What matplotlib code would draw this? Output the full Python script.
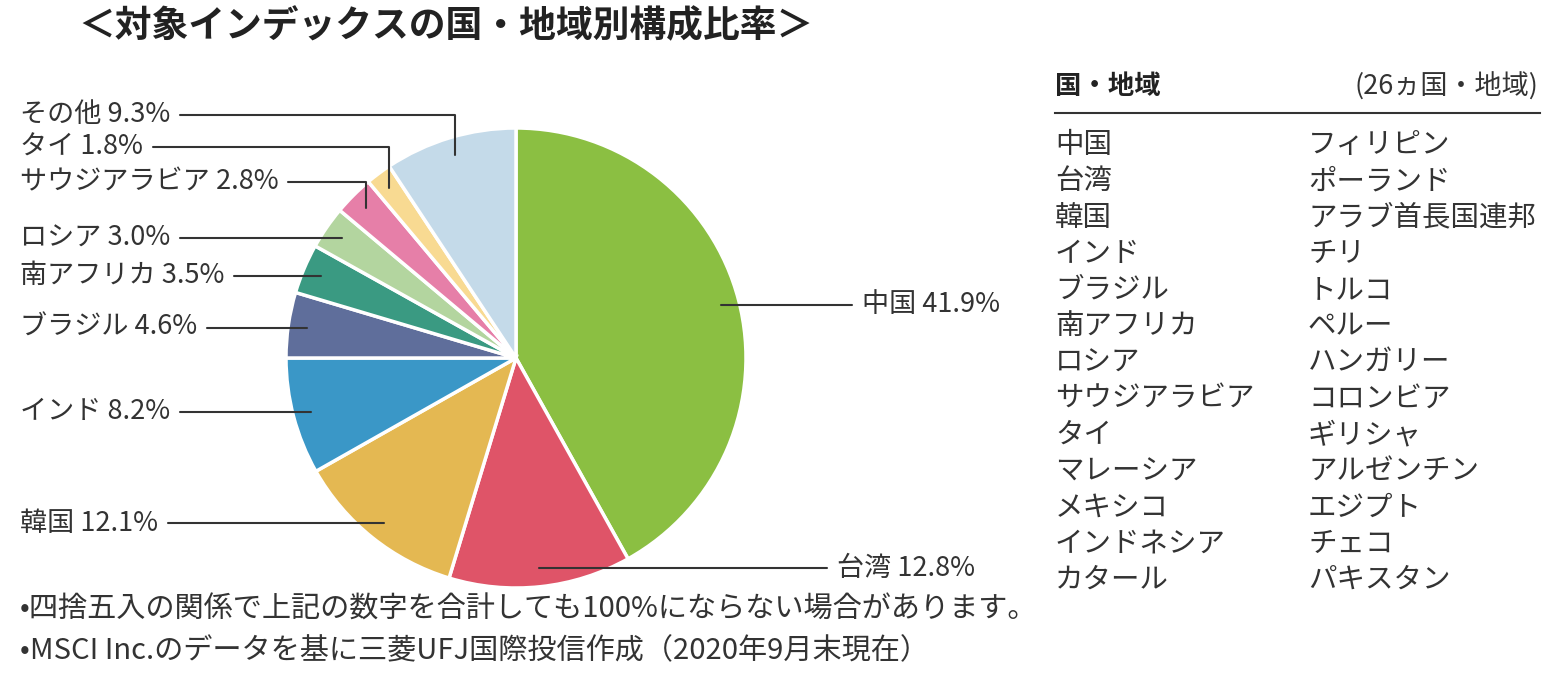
import numpy as np
import matplotlib
matplotlib.use("Agg")
import matplotlib.pyplot as plt

plt.rcParams['font.family'] = ['Noto Sans CJK JP', 'DejaVu Sans']

# data
regions = ['中国', '台湾', '韓国', 'インド', 'ブラジル', '南アフリカ',
           'ロシア', 'サウジアラビア', 'タイ', 'その他']
shares = [41.9, 12.8, 12.1, 8.2, 4.6, 3.5, 3.0, 2.8, 1.8, 9.3]
colors = ['#8bbf42', '#df5468', '#e4b852', '#3a97c7', '#5f6e9b', '#3a9a82',
          '#b3d59f', '#e67fa8', '#f8da92', '#c4dae9']

table_left = ['中国', '台湾', '韓国', 'インド', 'ブラジル', '南アフリカ', 'ロシア',
              'サウジアラビア', 'タイ', 'マレーシア', 'メキシコ', 'インドネシア', 'カタール']
table_right = ['フィリピン', 'ポーランド', 'アラブ首長国連邦', 'チリ', 'トルコ', 'ペルー',
               'ハンガリー', 'コロンビア', 'ギリシャ', 'アルゼンチン', 'エジプト', 'チェコ', 'パキスタン']

W, H = 1555, 679
txt = '#333333'

fig = plt.figure(figsize=(W / 100, H / 100), dpi=100)

# pie axes placed as a square box in pixels
ax = fig.add_axes([286 / W, 91 / H, 460 / W, 460 / H])
wedges, _ = ax.pie(shares, colors=colors, startangle=90, counterclock=False,
                   wedgeprops=dict(edgecolor='white', linewidth=2.5))
ax.set_xlim(-1, 1)
ax.set_ylim(-1, 1)
ax.set_aspect('equal')

# label placement (figure pixels, y measured from top)
side = {'中国': ('right', 862, None), '台湾': ('right', 837, None),
        'その他': ('left', 20, 115), 'タイ': ('left', 20, 147),
        'サウジアラビア': ('left', 20, 182)}

for w, name, val in zip(wedges, regions, shares):
    mid = np.deg2rad((w.theta1 + w.theta2) / 2)
    r = 0.92
    xa, ya = r * np.cos(mid), r * np.sin(mid)
    where, px, py = side.get(name, ('left', 20, None))
    label = f'{name} {val:.1f}%'
    if py is None:
        xytext = (px, ya)
        tc = ('figure pixels', 'data')
    else:
        xytext = (px, H - py)
        tc = 'figure pixels'
    ax.annotate(label, xy=(xa, ya), xycoords='data', xytext=xytext, textcoords=tc,
                ha='left', va='center', fontsize=19.5, color=txt,
                arrowprops=dict(arrowstyle='-', color=txt, lw=1.5,
                                connectionstyle='angle,angleA=0,angleB=90,rad=0',
                                relpos=(1, 0.5) if where == 'left' else (0, 0.5),
                                shrinkA=5, shrinkB=0))

# title
fig.text(78 / W, 1 - 27 / H, '＜対象インデックスの国・地域別構成比率＞', fontsize=26.5,
         fontweight='bold', color='#222222', ha='left', va='center')

# table of constituents
fig.text(1055 / W, 1 - 87 / H, '国・地域', fontsize=19, fontweight='bold',
         color='#222222', ha='left', va='center')
fig.text(1538 / W, 1 - 87 / H, '(26ヵ国・地域)', fontsize=19.5, color=txt,
         ha='right', va='center')
fig.add_artist(plt.Line2D([1055 / W, 1540 / W], [1 - 113 / H, 1 - 113 / H],
                          color=txt, lw=1.5))
for i, (a, b) in enumerate(zip(table_left, table_right)):
    y = 1 - (145 + i * 36.25) / H
    fig.text(1055 / W, y, a, fontsize=20.5, color=txt, ha='left', va='center')
    fig.text(1308 / W, y, b, fontsize=20.5, color=txt, ha='left', va='center')

# footnotes
fig.text(20 / W, 1 - 610 / H, '•四捨五入の関係で上記の数字を合計しても100%にならない場合があります。',
         fontsize=21, color=txt, ha='left', va='center')
fig.text(20 / W, 1 - 651 / H, '•MSCI Inc.のデータを基に三菱UFJ国際投信作成（2020年9月末現在）',
         fontsize=21, color=txt, ha='left', va='center')

fig.savefig('out.png', dpi=100, facecolor='white')
